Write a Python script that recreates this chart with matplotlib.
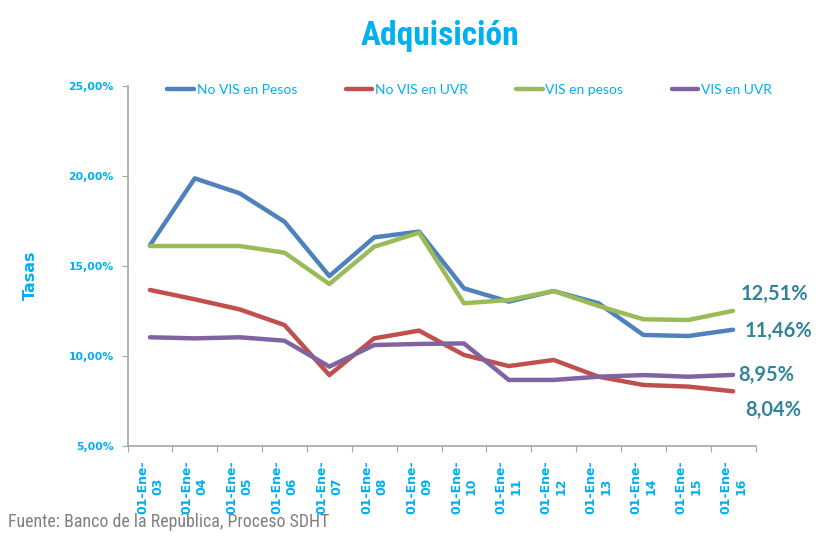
import matplotlib
matplotlib.use("Agg")
import matplotlib.pyplot as plt
from matplotlib import font_manager
from matplotlib.ticker import FixedLocator, FuncFormatter

names = {f.name for f in font_manager.fontManager.ttflist}
narrow = None
for cand in ["Roboto Condensed", "Open Sans Condensed", "Liberation Sans Narrow",
             "DejaVu Sans Condensed", "Noto Sans Condensed", "Arial Narrow"]:
    if cand in names:
        narrow = cand
        break
body = "Lato" if "Lato" in names else "DejaVu Sans"

categories = ["01-Ene-\n03", "01-Ene-\n04", "01-Ene-\n05", "01-Ene-\n06", "01-Ene-\n07",
              "01-Ene-\n08", "01-Ene-\n09", "01-Ene-\n10", "01-Ene-\n11", "01-Ene-\n12",
              "01-Ene-\n13", "01-Ene-\n14", "01-Ene-\n15", "01-Ene-\n16"]
no_vis_pesos = [16.15, 19.87, 19.04, 17.46, 14.44, 16.59, 16.91, 13.76, 13.02, 13.61, 12.93, 11.17, 11.11, 11.46]
no_vis_uvr = [13.67, 13.15, 12.59, 11.72, 8.94, 10.98, 11.41, 10.06, 9.44, 9.78, 8.85, 8.39, 8.30, 8.04]
vis_pesos = [16.11, 16.11, 16.11, 15.74, 14.00, 16.07, 16.85, 12.93, 13.11, 13.61, 12.78, 12.04, 12.00, 12.51]
vis_uvr = [11.04, 10.98, 11.04, 10.85, 9.41, 10.61, 10.67, 10.70, 8.67, 8.67, 8.85, 8.94, 8.85, 8.95]
series_names = ["No VIS en Pesos", "No VIS en UVR", "VIS en pesos", "VIS en UVR"]
end_labels = ["11,46%", "8,04%", "12,51%", "8,95%"]
yticks = [5, 10, 15, 20, 25]

colors = ["#4F81BD", "#C0504D", "#9BBB59", "#8064A2"]
cyan = "#00B0F0"
teal = "#31849B"

fig = plt.figure(figsize=(8.22, 5.36), dpi=100)
ax = fig.add_axes([127.5/822, 1-446/536, 628/822, 360/536])

x = list(range(len(categories)))
data = [no_vis_pesos, no_vis_uvr, vis_pesos, vis_uvr]
for vals, c, n in zip(data, colors, series_names):
    ax.plot(x, vals, color=c, lw=3.2, label=n, solid_capstyle="round", solid_joinstyle="round")

ax.set_xlim(-0.5, len(categories) - 0.5)
ax.set_ylim(5, 25)
ax.yaxis.set_major_locator(FixedLocator(yticks))
ax.yaxis.set_major_formatter(FuncFormatter(lambda v, p: f"{v:.2f}%".replace(".", ",")))
ax.xaxis.set_major_locator(FixedLocator([i - 0.5 for i in range(len(categories) + 1)]))
ax.xaxis.set_major_formatter(FuncFormatter(lambda v, p: ""))
ax.xaxis.set_minor_locator(FixedLocator(x))
ax.set_xticklabels(categories, minor=True)
ax.tick_params(axis="x", which="minor", length=0, pad=10)
for lab in ax.get_xticklabels(minor=True):
    lab.set_rotation(90)
    lab.set_multialignment("center")
    lab.set_color(cyan)
    lab.set_fontweight("bold")
    lab.set_fontsize(9)
    lab.set_va("top")
    lab.set_ha("center")
ax.tick_params(axis="x", which="major", length=4, color="#A6A6A6", direction="out")
ax.tick_params(axis="y", length=4, color="#A6A6A6", direction="out", labelsize=7.8, labelcolor=cyan, pad=6)
for lab in ax.get_yticklabels():
    lab.set_fontweight("bold")

for s in ["top", "right"]:
    ax.spines[s].set_visible(False)
for s in ["left", "bottom"]:
    ax.spines[s].set_color("#A6A6A6")
    ax.spines[s].set_linewidth(1.2)

ax.set_ylabel("Tasas", color=cyan, fontsize=11.5, fontweight="bold")
ax.yaxis.set_label_coords(-0.143, 0.475)

leg = ax.legend(loc="center", bbox_to_anchor=(0.545, 0.99), ncol=4, frameon=False,
                handlelength=1.9, handletextpad=0.2, columnspacing=3.5,
                prop={"family": body, "size": 10})
for t in leg.get_texts():
    t.set_color(cyan)

offsets = [(12, -1), (12, -19), (8, 17), (5, 0)]
for vals, lab, off in zip(data, end_labels, offsets):
    ax.annotate(lab, xy=(x[-1], vals[-1]), xytext=off, textcoords="offset pixels",
                ha="left", va="center", color=teal, fontsize=14.5, fontweight="bold",
                family=body, annotation_clip=False)

if narrow:
    fig.text(440/822, 1-36/536, "Adquisición", ha="center", va="center", color=cyan,
             fontsize=24, fontweight="bold", family=narrow)
    fig.text(8/822, 1-522/536, "Fuente: Banco de la República, Proceso SDHT", ha="left",
             va="center", color="#808080", fontsize=12.9, family=narrow)
else:
    fig.text(440/822, 1-36/536, "Adquisición", ha="center", va="center", color=cyan,
             fontsize=22, fontweight="bold", family="Liberation Sans")
    fig.text(8/822, 1-522/536, "Fuente: Banco de la República, Proceso SDHT", ha="left",
             va="center", color="#808080", fontsize=11, family="Liberation Sans")

fig.savefig("out.png", dpi=100)
